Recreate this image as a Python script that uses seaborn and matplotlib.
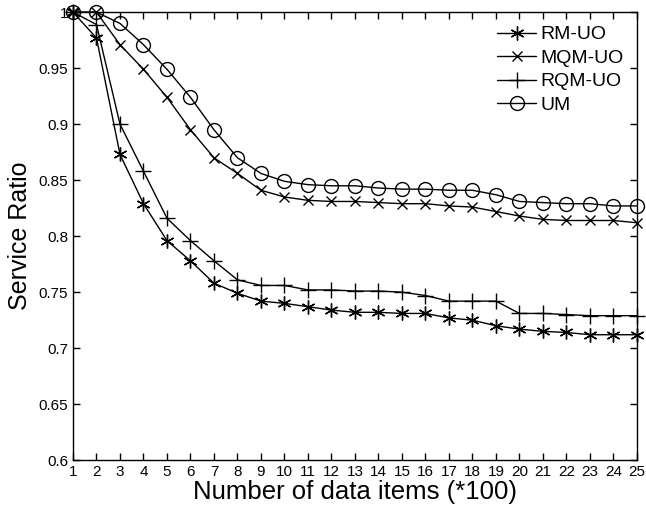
import matplotlib
matplotlib.use('Agg')
import matplotlib.pyplot as plt
import seaborn as sns

# data
items = list(range(1, 26))
rm_uo = [1.0, 0.977, 0.873, 0.829, 0.796, 0.778, 0.758, 0.749, 0.742, 0.740,
         0.737, 0.734, 0.732, 0.732, 0.731, 0.731, 0.727, 0.725, 0.720, 0.717,
         0.715, 0.714, 0.712, 0.712, 0.712]
mqm_uo = [1.0, 1.0, 0.971, 0.949, 0.924, 0.895, 0.870, 0.856, 0.841, 0.835,
          0.832, 0.831, 0.831, 0.830, 0.829, 0.829, 0.827, 0.826, 0.822, 0.818,
          0.815, 0.814, 0.814, 0.814, 0.812]
rqm_uo = [1.0, 0.989, 0.900, 0.858, 0.816, 0.796, 0.778, 0.761, 0.756, 0.756,
          0.752, 0.752, 0.751, 0.751, 0.750, 0.747, 0.742, 0.742, 0.742, 0.731,
          0.731, 0.730, 0.729, 0.729, 0.729]
um = [1.0, 1.0, 0.990, 0.971, 0.949, 0.924, 0.895, 0.870, 0.856, 0.849,
      0.846, 0.845, 0.845, 0.843, 0.842, 0.842, 0.841, 0.841, 0.837, 0.831,
      0.830, 0.829, 0.829, 0.827, 0.827]

sns.set_style('ticks')
plt.rcParams['font.family'] = ['Liberation Sans', 'DejaVu Sans']
plt.rcParams['text.color'] = 'black'
plt.rcParams['axes.labelcolor'] = 'black'

fig = plt.figure(figsize=(6.46, 5.09), dpi=100)
ax = fig.add_axes([0.113, 0.096, 0.873, 0.880])

series = [
    ('RM-UO', rm_uo, dict(marker=(6, 2, 0), markersize=10, markeredgewidth=1.0)),
    ('MQM-UO', mqm_uo, dict(marker='x', markersize=7.5, markeredgewidth=1.0)),
    ('RQM-UO', rqm_uo, dict(marker='+', markersize=11, markeredgewidth=1.0)),
    ('UM', um, dict(marker='o', markersize=10, markerfacecolor='none', markeredgewidth=1.0)),
]
for name, vals, style in series:
    sns.lineplot(x=items, y=vals, ax=ax, color='black', linewidth=1.0,
                 markeredgecolor='black', label=name, clip_on=False, **style)

ax.set_xlim(1, 25)
ax.set_ylim(0.6, 1.0)
ax.set_xticks(items)
ax.set_yticks([0.6, 0.65, 0.7, 0.75, 0.8, 0.85, 0.9, 0.95, 1.0])
ax.set_yticklabels(['0.6', '0.65', '0.7', '0.75', '0.8', '0.85', '0.9', '0.95', '1'])
ax.tick_params(direction='in', top=True, right=True, length=5, width=1,
               labelsize=11, colors='black')
for sp in ax.spines.values():
    sp.set_visible(True)
    sp.set_linewidth(1.0)
    sp.set_color('black')

ax.set_xlabel('Number of data items (*100)', fontsize=18.5, labelpad=1)
ax.set_ylabel('Service Ratio', fontsize=18, labelpad=5)

leg = ax.legend(loc='upper right', frameon=False, fontsize=14, handlelength=2.0,
                handletextpad=0.2, labelspacing=0.3, borderaxespad=0.3)

fig.savefig('out.png', dpi=100)
